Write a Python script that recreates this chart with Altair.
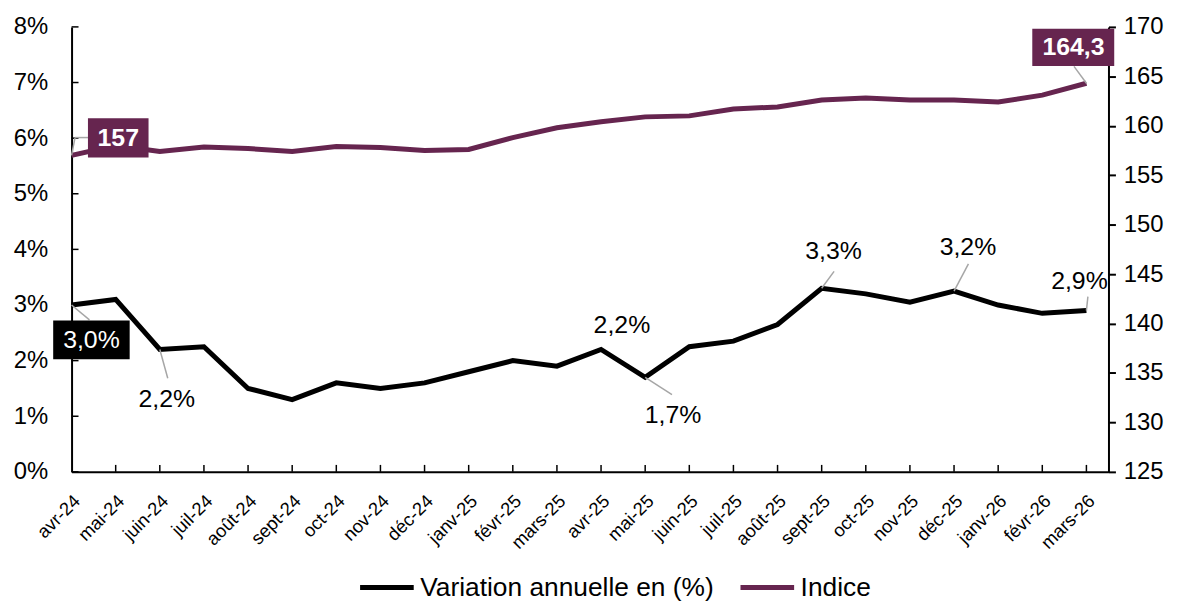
import json
import altair as alt
import pandas as pd

months = ["avr-24", "mai-24", "juin-24", "juil-24", "août-24", "sept-24", "oct-24",
          "nov-24", "déc-24", "janv-25", "févr-25", "mars-25", "avr-25", "mai-25",
          "juin-25", "juil-25", "août-25", "sept-25", "oct-25", "nov-25", "déc-25",
          "janv-26", "févr-26", "mars-26"]
variation = [3.0, 3.1, 2.2, 2.25, 1.5, 1.3, 1.6, 1.5, 1.6, 1.8, 2.0, 1.9,
             2.2, 1.7, 2.25, 2.35, 2.65, 3.3, 3.2, 3.05, 3.25, 3.0, 2.85, 2.9]
indice = [157.0, 158.0, 157.4, 157.85, 157.7, 157.4, 157.9, 157.8, 157.5, 157.6, 158.8, 159.8,
          160.4, 160.9, 161.0, 161.7, 161.9, 162.6, 162.8, 162.6, 162.6, 162.4, 163.1, 164.3]
series_names = ["Variation annuelle en (%)", "Indice"]
left_ticks = [0, 1, 2, 3, 4, 5, 6, 7, 8]
right_ticks = [125, 130, 135, 140, 145, 150, 155, 160, 165, 170]

# plain labels on the variation line: index, text
var_lab_idx = [2, 12, 13, 17, 20, 23]
var_lab_txt = ["2,2%", "2,2%", "1,7%", "3,3%", "3,2%", "2,9%"]
# style offsets (px) for label text and leader-line end
var_lab_dx = [7, 21, 28, 12, 14, -7]
var_lab_dy = [50, -25, 38, -38, -44, -30]
var_lead = [(8, 29), None, (27, 17.5), (12.5, -17), (14.5, -27.5), (1.5, -14)]

BLACK = "#000000"
PURPLE = "#66254F"
GREY = "#A6A6A6"
FONT = "Liberation Sans"
ANN = 25

N = len(months)
month_js = json.dumps(months, ensure_ascii=False)

x_enc = alt.X("i:Q", scale=alt.Scale(domain=[0, 23.5], nice=False, zero=False),
              axis=alt.Axis(values=list(range(N)), labelExpr=f"{month_js}[datum.value]",
                            labelAngle=-45, labelAlign="right", labelBaseline="middle",
                            labelFontSize=18.5, labelPadding=26, labelOffset=5, tickSize=0,
                            labelOverlap=False, labelBound=False,
                            domainColor=BLACK, domainWidth=2, grid=False, title=None,
                            labelColor=BLACK, labelFont=FONT))
x2_enc = alt.X2("i")
yL = alt.Y("v:Q", scale=alt.Scale(domain=[0, 8], nice=False),
           axis=alt.Axis(values=left_ticks, labelExpr="datum.value + '%'", tickSize=0,
                         labelPadding=24, labelFontSize=24, domainColor=BLACK, domainWidth=2,
                         grid=False, title=None, labelColor=BLACK, labelFont=FONT))
yR = alt.Y("v:Q", scale=alt.Scale(domain=[125, 170], nice=False, zero=False),
           axis=alt.Axis(values=right_ticks, orient="right", tickSize=7, tickColor=BLACK,
                         tickWidth=2, labelPadding=8, labelFontSize=24, domainColor=BLACK,
                         domainWidth=2, grid=False, title=None, labelColor=BLACK,
                         labelFont=FONT))
y2 = alt.Y2("v")

color = alt.Color("s:N", scale=alt.Scale(domain=series_names, range=[BLACK, PURPLE]),
                  legend=alt.Legend(orient="none", legendX=288, legendY=535,
                                    direction="horizontal", title=None, symbolType="stroke",
                                    symbolSize=2916, symbolStrokeWidth=5, labelFontSize=26.5,
                                    labelFont=FONT, labelColor=BLACK, labelOffset=4,
                                    columnPadding=16, labelLimit=500))

df_var = pd.DataFrame({"i": list(range(N)), "v": variation, "s": series_names[0]})
df_ind = pd.DataFrame({"i": list(range(N)), "v": indice, "s": series_names[1]})

left_layers = []
right_layers = []

left_layers.append(alt.Chart(df_var).mark_line(strokeWidth=5).encode(x=x_enc, y=yL, color=color))

# inward ticks on x axis and left axis
df_xt = pd.DataFrame({"i": list(range(1, N))})
left_layers.append(alt.Chart(df_xt).mark_rule(color=BLACK, strokeWidth=1.5).encode(
    x=x_enc, y=alt.value(448), y2=alt.value(441)))
df_yt = pd.DataFrame({"v": left_ticks})
left_layers.append(alt.Chart(df_yt).mark_rule(color=BLACK, strokeWidth=1.5).encode(
    y=yL, x=alt.value(0), x2=alt.value(7)))

# plain variation labels with leaders
for k, idx in enumerate(var_lab_idx):
    d = pd.DataFrame({"i": [idx], "v": [variation[idx]], "t": [var_lab_txt[k]]})
    if var_lead[k] is not None:
        lx, ly = var_lead[k]
        left_layers.append(alt.Chart(d).mark_rule(color=GREY, strokeWidth=1.5,
                                                  x2Offset=lx, y2Offset=ly).encode(
            x=x_enc, x2=x2_enc, y=yL, y2=y2))
    left_layers.append(alt.Chart(d).mark_text(fontSize=ANN, font=FONT, color=BLACK,
                                              dx=var_lab_dx[k], dy=var_lab_dy[k],
                                              align="center", baseline="middle").encode(
        x=x_enc, y=yL, text="t:N"))

# boxed first value of variation
d0 = pd.DataFrame({"i": [0], "v": [variation[0]], "t": ["3,0%"]})
left_layers.append(alt.Chart(d0).mark_rule(color=GREY, strokeWidth=1.5,
                                           x2Offset=18, y2Offset=15).encode(
    x=x_enc, x2=x2_enc, y=yL, y2=y2))
left_layers.append(alt.Chart(d0).mark_rect(color=BLACK, xOffset=-18.5, x2Offset=58.5,
                                           yOffset=15.5, y2Offset=54.5).encode(
    x=x_enc, x2=x2_enc, y=yL, y2=y2))
left_layers.append(alt.Chart(d0).mark_text(fontSize=ANN, font=FONT, color="white", dx=20, dy=35,
                                           align="center", baseline="middle").encode(
    x=x_enc, y=yL, text="t:N"))

right_layers.append(alt.Chart(df_ind).mark_line(strokeWidth=5).encode(x=x_enc, y=yR, color=color))

# boxed first index value
di0 = pd.DataFrame({"i": [0], "v": [indice[0]], "t": ["157"]})
right_layers.append(alt.Chart(di0).mark_rule(color=GREY, strokeWidth=1.5,
                                             x2Offset=3.5, y2Offset=-18).encode(
    x=x_enc, x2=x2_enc, y=yR, y2=y2))
right_layers.append(alt.Chart(di0).mark_rule(color=GREY, strokeWidth=1.5, xOffset=3.5,
                                             yOffset=-18, x2Offset=17, y2Offset=-18).encode(
    x=x_enc, x2=x2_enc, y=yR, y2=y2))
right_layers.append(alt.Chart(di0).mark_rect(color=PURPLE, xOffset=16.5, x2Offset=77.5,
                                             yOffset=-37.5, y2Offset=2).encode(
    x=x_enc, x2=x2_enc, y=yR, y2=y2))
right_layers.append(alt.Chart(di0).mark_text(fontSize=ANN, font=FONT, fontWeight="bold",
                                             color="white", dx=47, dy=-17.5,
                                             align="center", baseline="middle").encode(
    x=x_enc, y=yR, text="t:N"))

# boxed last index value
di1 = pd.DataFrame({"i": [N - 1], "v": [indice[-1]], "t": ["164,3"]})
right_layers.append(alt.Chart(di1).mark_rule(color=GREY, strokeWidth=1.5,
                                             x2Offset=-12.5, y2Offset=-17).encode(
    x=x_enc, x2=x2_enc, y=yR, y2=y2))
right_layers.append(alt.Chart(di1).mark_rect(color=PURPLE, xOffset=-54.5, x2Offset=28,
                                             yOffset=-55, y2Offset=-17.5).encode(
    x=x_enc, x2=x2_enc, y=yR, y2=y2))
right_layers.append(alt.Chart(di1).mark_text(fontSize=ANN, font=FONT, fontWeight="bold",
                                             color="white", dx=-13, dy=-36,
                                             align="center", baseline="middle").encode(
    x=x_enc, y=yR, text="t:N"))

left = alt.layer(*left_layers)
right = alt.layer(*right_layers)

chart = alt.layer(left, right).resolve_scale(y="independent").properties(
    width=1044, height=448,
    padding={"left": 64, "top": 17, "right": 70, "bottom": 129},
    autosize=alt.AutoSizeParams(type="none"),
    background="white",
).configure_view(stroke=None)

chart.save("out.html", embed_options={"renderer": "svg", "actions": False})
